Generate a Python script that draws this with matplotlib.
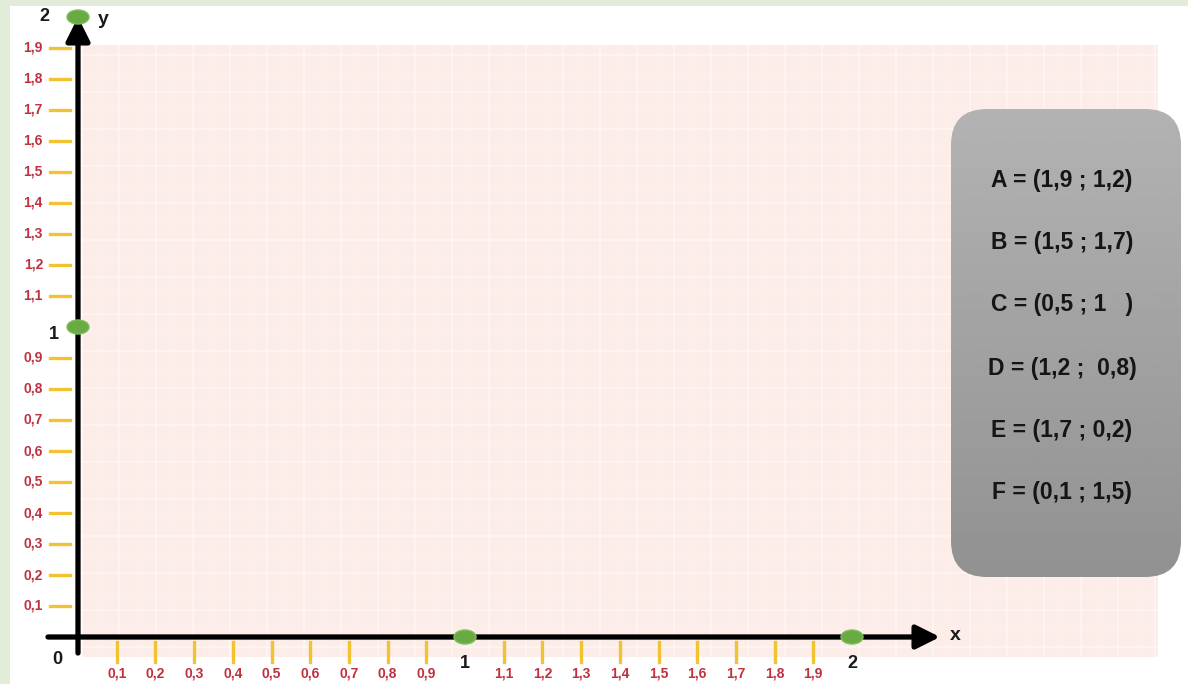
import numpy as np
import matplotlib
matplotlib.use("Agg")
import matplotlib.pyplot as plt
from matplotlib.patches import Rectangle, Ellipse, FancyBboxPatch

# ---- data ----
x_tick_values = [0.1, 0.2, 0.3, 0.4, 0.5, 0.6, 0.7, 0.8, 0.9,
                 1.1, 1.2, 1.3, 1.4, 1.5, 1.6, 1.7, 1.8, 1.9]
x_tick_labels = ["0,1", "0,2", "0,3", "0,4", "0,5", "0,6", "0,7", "0,8", "0,9",
                 "1,1", "1,2", "1,3", "1,4", "1,5", "1,6", "1,7", "1,8", "1,9"]
y_tick_values = [0.1, 0.2, 0.3, 0.4, 0.5, 0.6, 0.7, 0.8, 0.9,
                 1.1, 1.2, 1.3, 1.4, 1.5, 1.6, 1.7, 1.8, 1.9]
y_tick_labels = ["0,1", "0,2", "0,3", "0,4", "0,5", "0,6", "0,7", "0,8", "0,9",
                 "1,1", "1,2", "1,3", "1,4", "1,5", "1,6", "1,7", "1,8", "1,9"]
unit_values = [1, 2]
unit_labels = ["1", "2"]
point_lines = ["A = (1,9 ; 1,2)", "B = (1,5 ; 1,7)", "C = (0,5 ; 1   )",
               "D = (1,2 ;  0,8)", "E = (1,7 ; 0,2)", "F = (0,1 ; 1,5)"]

W, H, DPI = 1188, 684, 100
fig = plt.figure(figsize=(W / DPI, H / DPI), dpi=DPI, facecolor="white")

# green frame (left & top)
fig.patches.append(Rectangle((0, 0), 10 / W, 1, transform=fig.transFigure,
                             facecolor="#e1ecd9", edgecolor="none", zorder=0))
fig.patches.append(Rectangle((0, 1 - 6 / H), 1, 6 / H, transform=fig.transFigure,
                             facecolor="#e1ecd9", edgecolor="none", zorder=0))

ax = fig.add_axes([0, 0, 1, 1])
ax.set_facecolor("none")
ax.axis("off")

# pixel -> data mapping constants (x: 387 px/unit, origin at 78; y: 310 px/unit, origin at 637)
PX, PY, X0, Y0 = 387.0, 310.0, 78.0, 637.0
ax.set_xlim(-X0 / PX, (W - X0) / PX)
ax.set_ylim(-(H - Y0) / PY, Y0 / PY)

# pink grid area
gx0, gx1 = (82 - X0) / PX, (1158 - X0) / PX
gy0, gy1 = (Y0 - 657) / PY, (Y0 - 45) / PY
ax.add_patch(Rectangle((gx0, gy0), gx1 - gx0, gy1 - gy0, facecolor="#fdede8",
                       edgecolor="none", zorder=0))
sx, sy = 37 / PX, 37 / PY
for gx in np.arange(gx0, gx1, sx):
    ax.plot([gx, gx], [gy0, gy1], color="white", lw=1.1, alpha=0.5, zorder=0.5)
    ax.plot([gx + sx / 2] * 2, [gy0, gy1], color="white", lw=0.6, alpha=0.25, zorder=0.5)
for gy in np.arange(gy0 + 10 / PY, gy1, sy):
    ax.plot([gx0, gx1], [gy, gy], color="white", lw=1.1, alpha=0.5, zorder=0.5)
    ax.plot([gx0, gx1], [gy + sy / 2] * 2, color="white", lw=0.6, alpha=0.25, zorder=0.5)

# axes arrows
arrow_style = "-|>,head_length=0.8,head_width=0.4"
ax.annotate("", xy=((940 - X0) / PX, 0), xytext=((48 - X0) / PX, 0),
            arrowprops=dict(arrowstyle=arrow_style, lw=3.8, color="black",
                            shrinkA=0, shrinkB=0, mutation_scale=18), zorder=3)
ax.annotate("", xy=(0, (Y0 - 17) / PY), xytext=(0, (Y0 - 653) / PY),
            arrowprops=dict(arrowstyle=arrow_style, lw=3.8, color="black",
                            shrinkA=0, shrinkB=0, mutation_scale=18), zorder=3)

tick_col = "#f3c230"
lab_col = "#c0303f"
tfont = dict(family=["Liberation Sans", "DejaVu Sans"], fontweight="bold")

# x ticks
for v, lab in zip(x_tick_values, x_tick_labels):
    ax.plot([v, v], [-5 / PY, -25 / PY], color=tick_col, lw=2.4, zorder=2)
    ax.text(v, -36 / PY, lab, color=lab_col, fontsize=10, ha="center", va="center", **tfont)
# y ticks
for v, lab in zip(y_tick_values, y_tick_labels):
    ax.plot([-28 / PX, -8 / PX], [v, v], color=tick_col, lw=2.4, zorder=2)
    ax.text(-35 / PX, v, lab, color=lab_col, fontsize=10, ha="right", va="center", **tfont)

# unit dots and labels
dot_w, dot_h = 22 / PX, 14 / PY
for v, lab in zip(unit_values, unit_labels):
    ax.add_patch(Ellipse((v, 0), dot_w, dot_h, facecolor="#6aaa45", edgecolor="#7cbf58",
                         lw=1, zorder=4))
    ax.add_patch(Ellipse((0, v), dot_w, dot_h, facecolor="#6aaa45", edgecolor="#7cbf58",
                         lw=1, zorder=4))
    ax.text(v, -27 / PY, lab, color="#1a1a1a", fontsize=13, ha="center", va="center", **tfont)
ax.text(-24 / PX, 1 - 8 / PY, "1", color="#1a1a1a", fontsize=13, ha="center", va="center", **tfont)
ax.text(-34 / PX, 2, "2", color="#1a1a1a", fontsize=13, ha="center", va="center", **tfont)
ax.text(-21 / PX, -23 / PY, "0", color="#1a1a1a", fontsize=13, ha="center", va="center", **tfont)
ax.text((955 - X0) / PX, 0.005, "x", color="#1a1a1a", fontsize=14, ha="center", va="center", **tfont)
ax.text((103 - X0) / PX, (Y0 - 20) / PY, "y", color="#1a1a1a", fontsize=14, ha="center", va="center", **tfont)

# grey rounded box with gradient
bx0, by0_top, bw, bh = 950, 108, 232, 470
axb = fig.add_axes([bx0 / W, 1 - (by0_top + bh) / H, bw / W, bh / H])
axb.axis("off")
axb.set_xlim(0, bw)
axb.set_ylim(0, bh)
grad = np.linspace(0.57, 0.70, 200)[:, None] * np.ones((1, 50))
img = axb.imshow(grad, extent=[0, bw, 0, bh], origin="lower", cmap="gray",
                 vmin=0, vmax=1, aspect="auto", zorder=1)
box = FancyBboxPatch((1, 1), bw - 2, bh - 2, boxstyle="round,pad=0,rounding_size=36",
                     facecolor="none", edgecolor="none")
axb.add_patch(box)
img.set_clip_path(box)

line_y = [180, 242, 305, 368, 430, 492]
for yy, txt in zip(line_y, point_lines):
    axb.text(bw / 2 - 4, bh - (yy - by0_top), txt, color="#151515", fontsize=16.5,
             ha="center", va="center", **tfont)

fig.savefig("out.png", dpi=DPI, facecolor="white")
